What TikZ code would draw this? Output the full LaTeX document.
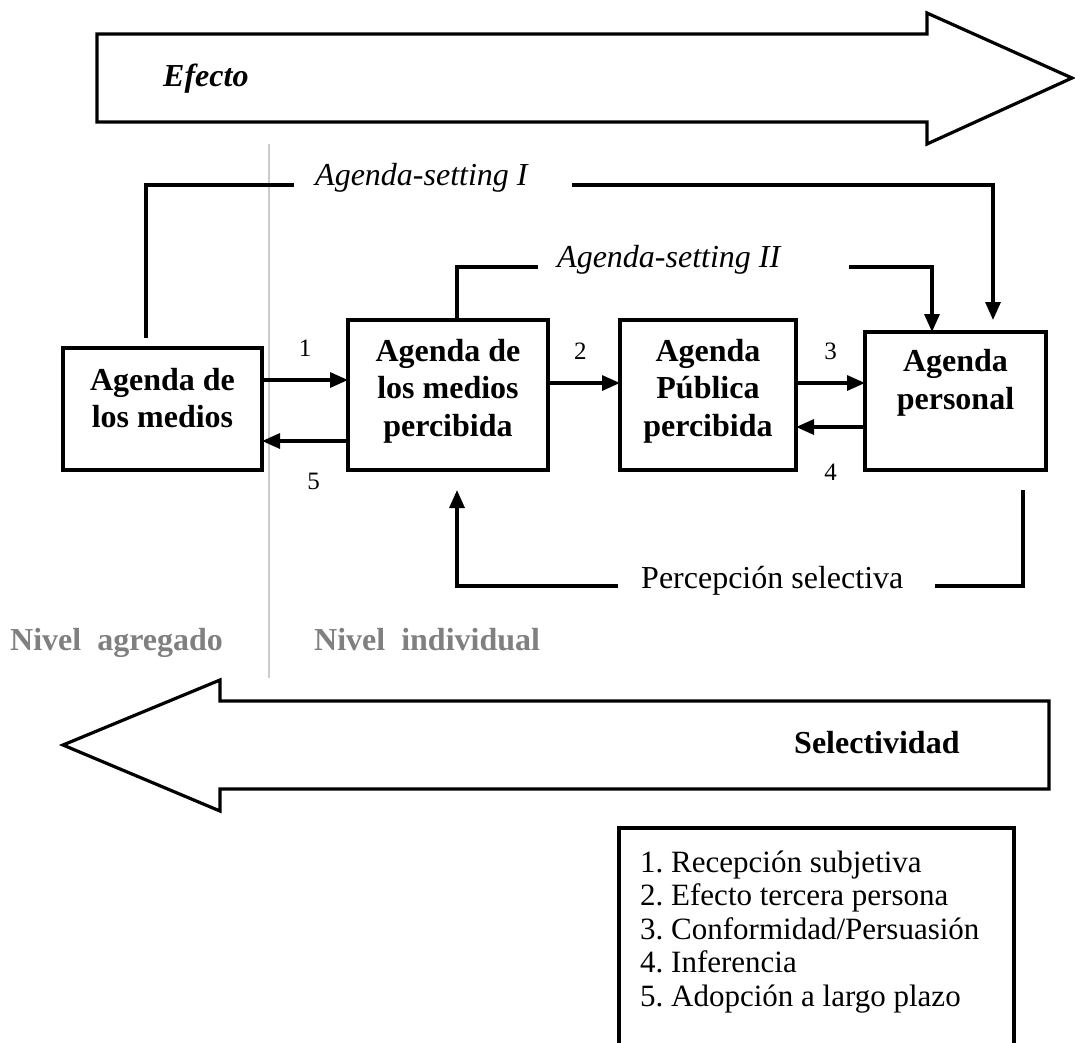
\documentclass[tikz,border=0pt]{standalone}
\usepackage{fontspec}
\setmainfont{Liberation Serif}
\usepackage{tikz}
\usetikzlibrary{arrows.meta, positioning}
\frenchspacing
\tikzstyle{caja} = [rectangle, draw=black, line width=3.2pt, outer sep=0pt, inner sep=0pt, anchor=south west]
\tikzstyle{texto} = [font=\fontsize{32}{37.5}\selectfont\bfseries, align=center, inner sep=0pt]
\tikzstyle{linea} = [line width=3.2pt]
\tikzstyle{flecha} = [line width=3.2pt,->,>={Triangle[length=18pt,width=15pt]}]
\tikzstyle{num} = [font=\fontsize{25}{25}\selectfont, inner sep=0pt]
\tikzstyle{etiqueta} = [font=\fontsize{32}{32}\selectfont\itshape, inner sep=0pt, anchor=base west]
\tikzstyle{bloque} = [draw=black, line width=3.2pt, fill=white]
\tikzstyle{nivel} = [font=\fontsize{32}{32}\selectfont\bfseries, text=black!50, inner sep=0pt, anchor=base west]

\begin{document}
\begin{tikzpicture}[x=1pt, y=-1pt]
\useasboundingbox (0,0) rectangle (1075,1042);

% flechas grandes
\draw[bloque] (97,34) -- (927,34) -- (927,13) -- (1072,78) -- (927,144) -- (927,122) -- (97,122) -- cycle;
\node[etiqueta, font=\fontsize{32}{32}\selectfont\bfseries\itshape] (efecto) at (163,86) {Efecto};

\draw[bloque] (1049,701) -- (220,701) -- (220,680) -- (63,745) -- (220,811) -- (220,789) -- (1049,789) -- cycle;
\node[nivel, text=black] (selec) at (794,753) {Selectividad};

% niveles
\draw[line width=2pt, black!20] (269,144) -- (269,678);
\node[nivel] (agr) at (10,650) {Nivel\ \ agregado};
\node[nivel] (ind) at (314,650) {Nivel\ \ individual};

% agendas
\node[caja, minimum width=199pt, minimum height=122pt] (med) at (63,470) {};
\node[caja, minimum width=200pt, minimum height=150pt, right=86pt of med.south east, anchor=south west] (medp) {};
\node[caja, minimum width=176pt, minimum height=150pt, right=72pt of medp.south east, anchor=south west] (pub) {};
\node[caja, minimum width=181pt, minimum height=138pt, right=69pt of pub.south east, anchor=south west] (pers) {};

\node[texto] (med-t) at ([yshift=11pt]med.center) {Agenda de\\los medios};
\node[texto] (medp-t) at ([yshift=4pt]medp.center) {Agenda de\\los medios\\percibida};
\node[texto] (pub-t) at ([yshift=4pt]pub.center) {Agenda\\Pública\\percibida};
\node[texto] (pers-t) at ([yshift=18pt]pers.center) {Agenda\\personal};

% efectos numerados
\draw[flecha] ([yshift=29pt]med.east) -- node[num, above=22pt] (n1) {1} ([yshift=15pt]medp.west);
\draw[flecha] ([yshift=12pt]medp.east) -- node[num, above=22pt, pos=0.45] (n2) {2} ([yshift=12pt]pub.west);
\draw[flecha] ([yshift=12pt]pub.east) -- node[num, above=22pt] (n3) {3} ([yshift=18pt]pers.west);
\draw[flecha] ([yshift=-26pt]pers.west) -- node[num, below=35pt] (n4) {4} ([yshift=-32pt]pub.east);
\draw[flecha] ([yshift=-46pt]medp.west) -- node[num, below=31pt, pos=0.4] (n5) {5} ([yshift=-32pt]med.east);

% agenda-setting
\node[etiqueta] (as1) at (315,185) {Agenda-setting I};
\draw[linea, shorten <=10pt] ([xshift=-16.5pt]med.north) |- ([xshift=-21pt]as1.base west);
\draw[flecha, shorten >=12pt] ([xshift=44pt]as1.base east) -| ([xshift=37.5pt]pers.north);

\node[etiqueta] (as2) at (557,267) {Agenda-setting II};
\draw[linea] ([xshift=9pt]medp.north) |- ([xshift=-19pt]as2.base west);
\draw[flecha] ([xshift=69pt]as2.base east) -| ([xshift=-23.5pt]pers.north);

% percepcion selectiva
\node[anchor=mid west, font=\fontsize{32}{32}\selectfont, inner sep=0pt] (perc) at (641,586) {Percepción selectiva};
\draw[linea, shorten <=20pt] ([xshift=67.5pt]pers.south) |- ([xshift=31pt]perc.mid east);
\draw[flecha, shorten >=20pt] ([xshift=-23pt]perc.mid west) -| ([xshift=9pt]medp.south);

% leyenda
\draw[linea] (619,1046) -- (619,828) -- (1014,828) -- (1014,1046);
\node[anchor=west, align=left, font=\fontsize{31}{33.5}\selectfont, inner sep=0pt] (leyenda) at (640,932) {1. Recepción subjetiva\\2. Efecto tercera persona\\3. Conformidad/Persuasión\\4. Inferencia\\5. Adopción a largo plazo};

\end{tikzpicture}
\end{document}
